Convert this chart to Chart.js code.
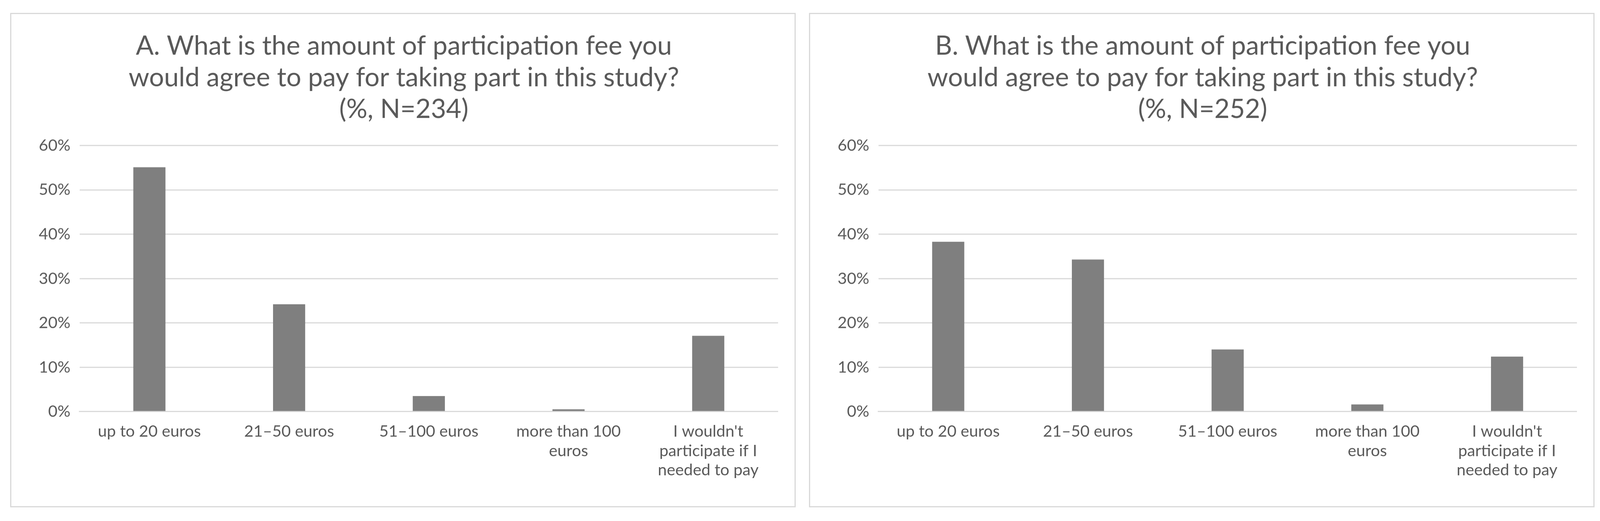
<!DOCTYPE html>
<html>
<head>
<meta charset="utf-8">
<script src="https://cdn.jsdelivr.net/npm/chart.js@4"></script>
<style>
  html, body { margin: 0; background: #fff; width: 100vw; height: 100vh; overflow: hidden; }
  .panel { position: absolute; top: 2.47vh; width: 49.1vw; height: 94.9vh; border: 3px solid #d9d9d9; box-sizing: border-box; }
  #pa { left: 0.64vw; }
  #pb { left: 50.57vw; }
</style>
</head>
<body>
<div class="panel" id="pa"><canvas id="chartA"></canvas></div>
<div class="panel" id="pb"><canvas id="chartB"></canvas></div>
<script>
const categories = [
  "up to 20 euros",
  "21\u201350 euros",
  "51\u2013100 euros",
  ["more than 100", "euros"],
  ["I wouldn't", "participate if I", "needed to pay"]
];
const valuesA = [55.1, 24.2, 3.5, 0.5, 17.1];
const valuesB = [38.3, 34.3, 14.0, 1.6, 12.4];
const titleA = ["A. What is the amount of participation fee you", "would agree to pay for taking part in this study?", "(%, N=234)"];
const titleB = ["B. What is the amount of participation fee you", "would agree to pay for taking part in this study?", "(%, N=252)"];

const textColor = "#595959";
const fontFamily = "Lato, 'Open Sans', sans-serif";
const s = window.innerWidth / 4370;

function makeChart(id, title, values) {
  new Chart(document.getElementById(id).getContext("2d"), {
    type: "bar",
    data: {
      labels: categories,
      datasets: [{
        data: values,
        backgroundColor: "#7f7f7f",
        categoryPercentage: 1,
        barPercentage: 0.23
      }]
    },
    options: {
      responsive: true,
      maintainAspectRatio: false,
      animation: false,
      layout: { padding: { left: 50 * s, right: 45 * s, top: 45 * s, bottom: 45 * s } },
      plugins: {
        legend: { display: false },
        tooltip: { enabled: false },
        title: {
          display: true,
          text: title,
          color: textColor,
          font: { family: fontFamily, size: 72 * s, weight: "normal" },
          lineHeight: 1.4,
          padding: { top: 0, bottom: 55 * s }
        }
      },
      scales: {
        x: {
          grid: { display: false, drawTicks: false },
          border: { color: "#d9d9d9", width: 3 },
          ticks: { color: textColor, font: { family: fontFamily, size: 44 * s }, maxRotation: 0, autoSkip: false, padding: 28 * s }
        },
        y: {
          min: 0,
          max: 60,
          grid: { color: "#d9d9d9", lineWidth: 3, drawTicks: false },
          border: { display: false },
          ticks: {
            stepSize: 10,
            color: textColor,
            font: { family: fontFamily, size: 44 * s },
            padding: 25 * s,
            callback: v => v + "%"
          }
        }
      }
    }
  });
}

makeChart("chartA", titleA, valuesA);
makeChart("chartB", titleB, valuesB);
</script>
</body>
</html>
